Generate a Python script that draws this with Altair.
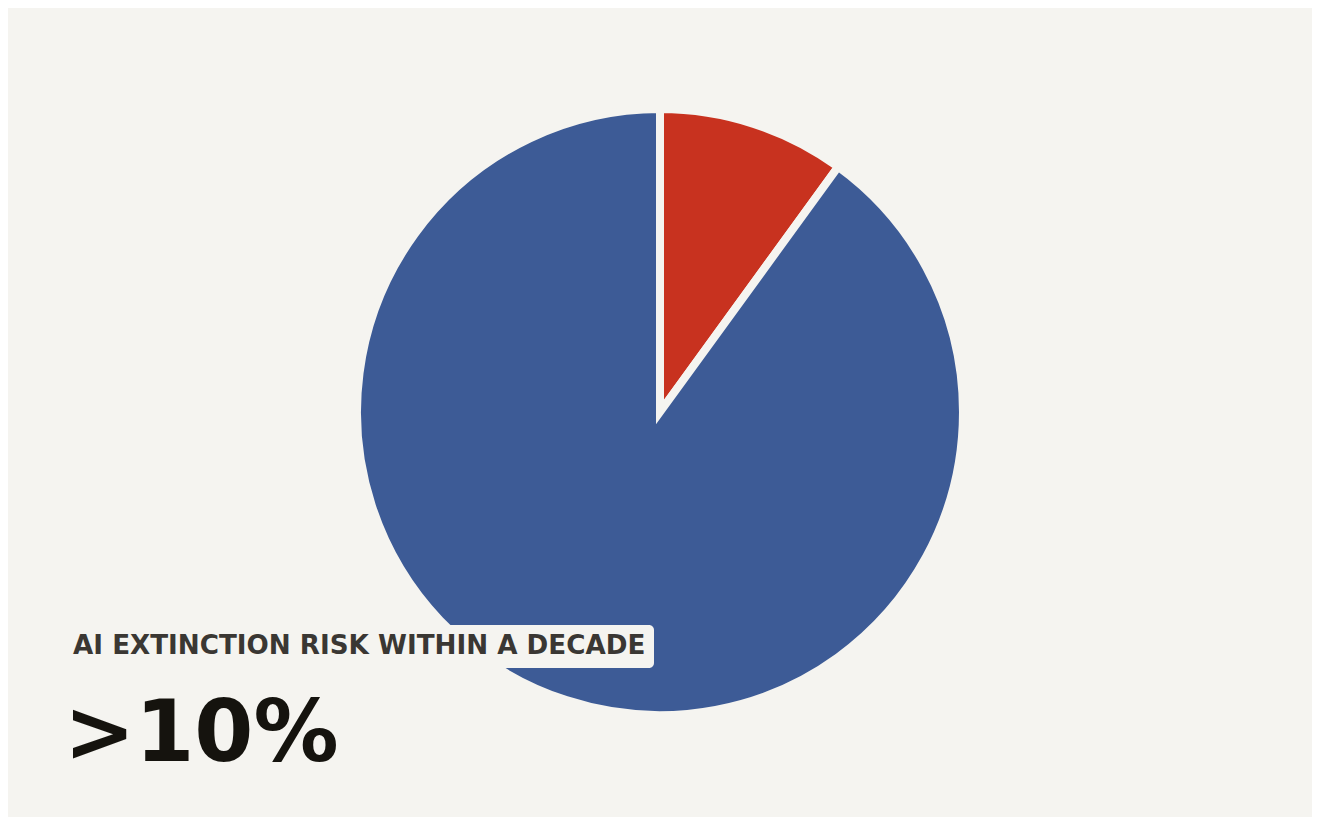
import altair as alt
import pandas as pd

categories = ["AI extinction risk", "Other"]
values = [10, 90]
colors = ["#c8321f", "#3d5b96"]
label_text = ["AI EXTINCTION RISK WITHIN A DECADE"]
big_text = [">10%"]

BG = "#f5f4f0"

pie_df = pd.DataFrame({"category": categories, "value": values, "order": [0, 1]})

pie = alt.Chart(pie_df).mark_arc(
    outerRadius=303, stroke=BG, strokeWidth=8
).encode(
    theta=alt.Theta("value:Q", stack=True),
    order=alt.Order("order:Q"),
    color=alt.Color("category:N", scale=alt.Scale(domain=categories, range=colors), legend=None),
    x=alt.value(652),
    y=alt.value(404),
)

box = alt.Chart(pd.DataFrame({"t": label_text})).mark_rect(
    color=BG, cornerRadius=5
).encode(
    x=alt.value(54), x2=alt.value(646), y=alt.value(617), y2=alt.value(660)
)

label = alt.Chart(pd.DataFrame({"t": label_text})).mark_text(
    align="left", baseline="alphabetic", font="DejaVu Sans", fontWeight="bold",
    fontSize=26.2, color="#3a3733"
).encode(text="t:N", x=alt.value(65), y=alt.value(646))

big = alt.Chart(pd.DataFrame({"t": big_text})).mark_text(
    align="left", baseline="alphabetic", font="DejaVu Sans", fontWeight="bold",
    fontSize=85, color="#15130e"
).encode(text="t:N", x=alt.value(56), y=alt.value(753))

chart = alt.layer(pie, box, label, big).properties(
    width=1304, height=809, background=BG, padding=0,
    autosize=alt.AutoSizeParams(type="none")
).configure_view(stroke=None)

chart.save("out.html", embed_options={"renderer": "svg", "actions": False})
